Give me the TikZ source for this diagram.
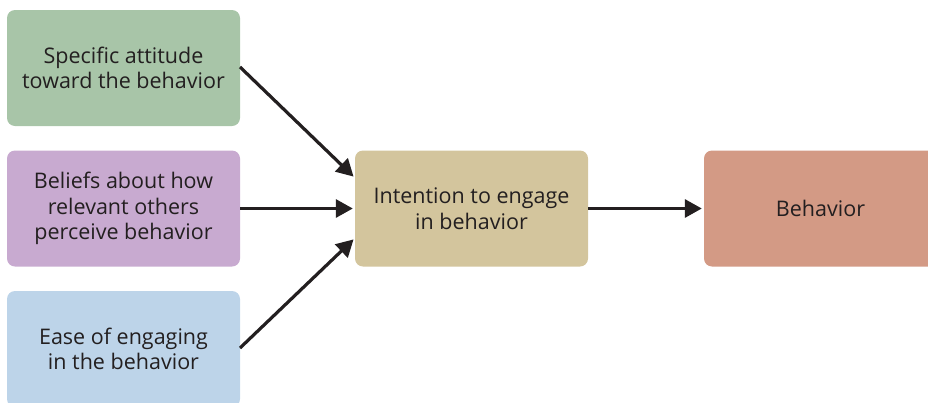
\documentclass[tikz,border=0pt]{standalone}
\usepackage{fontspec}
\setmainfont{Open Sans}
\usetikzlibrary{arrows.meta}
\definecolor{txt}{HTML}{231F20}
\definecolor{cgreen}{HTML}{A8C5A8}
\definecolor{cpurple}{HTML}{C8AAD0}
\definecolor{cblue}{HTML}{BDD4E9}
\definecolor{ctan}{HTML}{D3C59D}
\definecolor{csalmon}{HTML}{D39A85}
\begin{document}
\begin{tikzpicture}[x=1pt,y=-1pt,
  box/.style={rectangle, rounded corners=8pt, minimum width=233pt, minimum height=116pt, inner sep=0pt, align=center, font=\fontsize{21.5}{25.5}\selectfont, text=txt},
  conn/.style={line width=3.2pt, draw=txt, -{Triangle[length=17pt,width=18pt]}, shorten >=2pt}]
\useasboundingbox (0,0) rectangle (928,402);
\clip (0,0) rectangle (928,402);
\node[box, fill=cgreen] (a) at (123.5,68) {Specific attitude\\toward the behavior};
\node[box, fill=cpurple] (b) at (123.5,208.5) {Beliefs about how\\relevant others\\perceive behavior};
\node[box, fill=cblue] (c) at (123.5,349) {Ease of engaging\\in the behavior};
\node[box, fill=ctan] (d) at (471.5,208.5) {Intention to engage\\in behavior};
\node[box, fill=csalmon] (e) at (820.5,208.5) {Behavior};
\coordinate (a1) at (240,67);
\coordinate (c1) at (240,348);
\coordinate (d1) at (355,178);
\coordinate (d3) at (355,238);
\draw[conn] (a1) -- (d1);
\draw[conn] (b.east) -- (d.west);
\draw[conn] (c1) -- (d3);
\draw[conn] (d.east) -- (e.west);
\end{tikzpicture}
\end{document}
